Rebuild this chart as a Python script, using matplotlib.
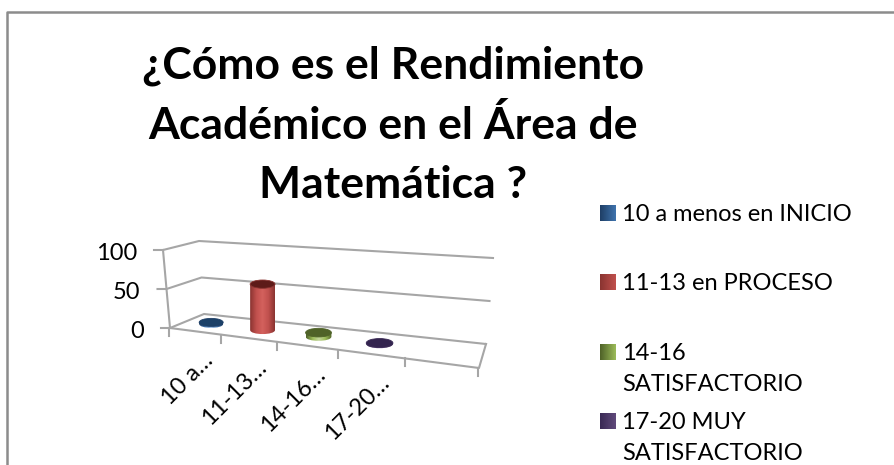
import numpy as np
import matplotlib
matplotlib.use('Agg')
import matplotlib.pyplot as plt
from matplotlib.patches import Ellipse, PathPatch
from matplotlib.path import Path
from matplotlib.colors import LinearSegmentedColormap

categories = ['10 a menos en INICIO', '11-13 en PROCESO', '14-16 SATISFACTORIO', '17-20 MUY SATISFACTORIO']
short_labels = ['10 a…', '11-13…', '14-16…', '17-20…']
values = [2, 60, 5, 1]
y_ticks = [0, 50, 100]
title_lines = ['¿Cómo es el Rendimiento', 'Académico en el Área de', 'Matemática ?']
legend_lines = [['10 a menos en INICIO'], ['11-13 en PROCESO'], ['14-16', 'SATISFACTORIO'], ['17-20 MUY', 'SATISFACTORIO']]

# dark, body, light, top
colors = [('#1f3f66', '#3f73ad', '#8db4e2', '#1c4168'),
          ('#8a3431', '#c0504d', '#d4615d', '#5e1b19'),
          ('#4f6228', '#9bbb59', '#c3d69b', '#4f6228'),
          ('#3a2a55', '#604a7b', '#8064a2', '#33244f')]
GRID = '#a6a6a6'
FONT = 'Lato'
n_slots = 5
# corners of the floor and walls in picture pixels
FL, FR, BR, BL = (170, 328), (479, 368), (486, 344), (204, 314)
TOP_L, TOP_B, TOP_R = (163, 250), (199, 241), (493, 258)
PERSP = 0.247


def lerp(a, b, t):
    return (a[0] + (b[0]-a[0])*t, a[1] + (b[1]-a[1])*t)


def slot_t(u):
    s = u / n_slots
    return s / (1 + PERSP*(1-s))


def on_floor(u, d):
    t = slot_t(u)
    return lerp(lerp(FL, FR, t), lerp(BL, BR, t), d)


def on_back(u, v):
    t = slot_t(u)
    return lerp(lerp(BL, BR, t), lerp(TOP_B, TOP_R, t), v/100)


def on_side(d, v):
    return lerp(lerp(FL, BL, d), lerp(TOP_L, TOP_B, d), v/100)


fig = plt.figure(figsize=(8.95, 4.65), dpi=100)
ax = fig.add_axes([0, 0, 1, 1])
ax.set_xlim(0, 895)
ax.set_ylim(465, 0)
ax.axis('off')

# outer border of the chart area, no right side in the picture
ax.plot([7, 7, 895], [465, 12, 12], color='#8c8c8c', lw=1.8)

for i, line in enumerate(title_lines):
    ax.text(393, 66 + i*59.5, line, family=FONT, weight='bold', fontsize=32, ha='center', va='center', color='black')

# gridlines on the walls
for t in y_ticks:
    p0 = on_side(0, t)
    p1 = on_side(1, t)
    p2 = on_back(n_slots, t)
    ax.plot([p0[0]-9, p0[0], p1[0], p2[0]], [p0[1], p0[1], p1[1], p2[1]], color=GRID, lw=1.5)
    ax.text(p0[0]-26, p0[1]+3, str(t), family=FONT, fontsize=17, ha='right', va='center')

# left edge, floor edges, ticks
ax.plot(*zip(on_side(0, 0), on_side(0, 100)), color=GRID, lw=1.5)
ax.plot(*zip(on_floor(0, 0), on_floor(n_slots, 0), on_floor(n_slots, 1)), color=GRID, lw=1.5)
for k in range(n_slots + 1):
    x, y = on_floor(k, 0)
    ax.plot([x-0.5, x-0.5], [y, y+8], color=GRID, lw=1.5)

# cylinders, a little wider toward the right because of the perspective
for i, v in enumerate(values):
    cx, cy = on_floor(i + 0.5, 0.5)
    w = 24 + 0.9*i
    h = 8 + 0.3*i
    # height scale at this spot taken from the back wall
    top = cy - (on_back(i + 0.5, 0)[1] - on_back(i + 0.5, v)[1])
    dark, body, light, cap = colors[i]
    verts = [(cx-w/2, top), (cx-w/2, cy), (cx-w/2, cy+h*0.66), (cx+w/2, cy+h*0.66), (cx+w/2, cy), (cx+w/2, top), (cx-w/2, top)]
    codes = [Path.MOVETO, Path.LINETO, Path.CURVE4, Path.CURVE4, Path.CURVE4, Path.LINETO, Path.CLOSEPOLY]
    patch = PathPatch(Path(verts, codes), fc='none', ec='none', zorder=3)
    ax.add_patch(patch)
    cmap = LinearSegmentedColormap.from_list('c', [dark, body, light, body, dark])
    im = ax.imshow(np.linspace(0, 1, 64).reshape(1, -1), cmap=cmap, aspect='auto',
                   extent=[cx-w/2, cx+w/2, cy+h, top], zorder=3)
    im.set_clip_path(patch)
    ax.add_patch(Ellipse((cx, top), w, h, fc=cap, ec=dark, lw=0.6, zorder=4))

# rotated category labels
for i, lab in enumerate(short_labels):
    x, y = on_floor(i + 0.5, 0)
    ax.text(x+7, y+18, lab, family=FONT, fontsize=17, rotation=45, rotation_mode='anchor', ha='right', va='top')

# legend
legend_y = [213, 282.5, 352, 421]
for i, lines in enumerate(legend_lines):
    dark, body, light, cap = colors[i]
    ax.imshow(np.linspace(0, 1, 32).reshape(1, 32), aspect='auto', zorder=3,
              cmap=LinearSegmentedColormap.from_list('s', [dark, body]),
              extent=[600, 616, legend_y[i]+8, legend_y[i]-8])
    for j, line in enumerate(lines):
        ax.text(622, legend_y[i] + 1 + j*31.5, line, family=FONT, fontsize=17, va='center', ha='left')

ax.set_xlim(0, 895)
ax.set_ylim(465, 0)
fig.savefig('out.png', dpi=100)
